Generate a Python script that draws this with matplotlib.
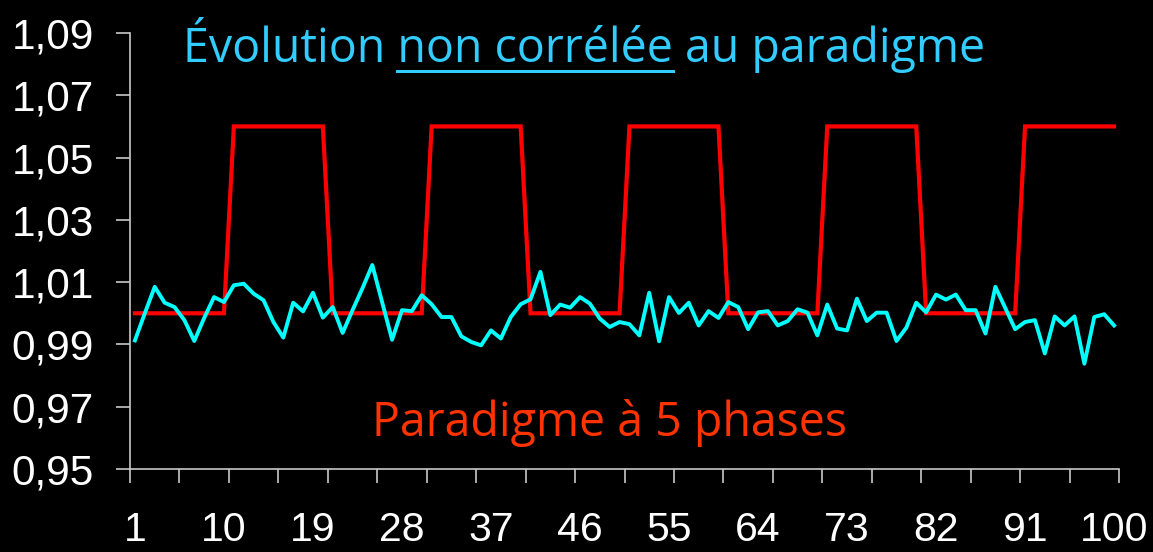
import matplotlib
matplotlib.use("Agg")
import matplotlib.pyplot as plt
from matplotlib.lines import Line2D

# données
x = list(range(1, 101))
signal = [0.9913, 1.0000, 1.0085, 1.0034, 1.0020, 0.9978, 0.9911, 0.9985, 1.0052, 1.0036,
          1.0090, 1.0095, 1.0063, 1.0042, 0.9972, 0.9922, 1.0034, 1.0006, 1.0066, 0.9986,
          1.0020, 0.9937, 1.0010, 1.0080, 1.0155, 1.0035, 0.9915, 1.0010, 1.0007, 1.0058,
          1.0029, 0.9988, 0.9988, 0.9926, 0.9908, 0.9897, 0.9945, 0.9919, 0.9988, 1.0029,
          1.0045, 1.0133, 0.9994, 1.0028, 1.0018, 1.0052, 1.0031, 0.9983, 0.9956, 0.9972,
          0.9965, 0.9929, 1.0066, 0.9910, 1.0052, 1.0001, 1.0034, 0.9961, 1.0007, 0.9985,
          1.0036, 1.0020, 0.9949, 1.0003, 1.0007, 0.9961, 0.9975, 1.0013, 1.0002, 0.9929,
          1.0028, 0.9951, 0.9945, 1.0047, 0.9975, 1.0002, 1.0002, 0.9911, 0.9954, 1.0034,
          1.0003, 1.0060, 1.0044, 1.0060, 1.0010, 1.0010, 0.9935, 1.0085, 1.0017, 0.9949,
          0.9972, 0.9978, 0.9871, 0.9990, 0.9961, 0.9990, 0.9838, 0.9988, 0.9997, 0.9961]
phase_levels = [1.00, 1.06, 1.00, 1.06, 1.00, 1.06, 1.00, 1.06, 1.00, 1.06]
phase_len = 10
paradigme = [lvl for lvl in phase_levels for _ in range(phase_len)]

yticks = [0.95, 0.97, 0.99, 1.01, 1.03, 1.05, 1.07, 1.09]
xlabels = [1, 10, 19, 28, 37, 46, 55, 64, 73, 82, 91, 100]

fig = plt.figure(figsize=(11.53, 5.52), dpi=100, facecolor="black")
ax = fig.add_axes([130 / 1153, 1 - 469 / 552, (1119 - 130) / 1153, (469 - 33) / 552])
ax.set_facecolor("black")

ax.plot(x, paradigme, color="#ff0000", lw=3.0, solid_joinstyle="miter")
ax.plot(x, signal, color="#00ffff", lw=2.8)

ax.set_xlim(0.5, 100.5)
ax.set_ylim(0.95, 1.09)

for s in ["top", "right"]:
    ax.spines[s].set_visible(False)
for s in ["left", "bottom"]:
    ax.spines[s].set_color("#c8c8c8")
    ax.spines[s].set_linewidth(1.2)

# y : graduations avec virgule
ax.set_yticks(yticks)
ax.set_yticklabels([f"{v:.2f}".replace(".", ",") for v in yticks])
ax.tick_params(axis="y", colors="#c8c8c8", labelcolor="white", length=10, width=1.2,
               pad=16, labelsize=30.5)

# x : marques tous les 5, étiquettes tous les 9
ax.set_xticks([0.5 + 5 * k for k in range(21)])
ax.set_xticklabels([])
ax.set_xticks(xlabels, minor=True)
ax.set_xticklabels([str(v) for v in xlabels], minor=True)
ax.xaxis.remove_overlapping_locs = False
ax.tick_params(axis="x", which="major", colors="#c8c8c8", length=10, width=1.2)
ax.tick_params(axis="x", which="minor", length=0, pad=30, labelcolor="white", labelsize=29.5)
for lab in ax.get_xticklabels(which="minor") + ax.get_yticklabels():
    lab.set_fontfamily("Liberation Sans")

# textes
fnt = "Open Sans"
fs = 33.5
full = "Évolution non corrélée au paradigme"
t = fig.text(584 / 1153, 1 - 45 / 552, full, ha="center", va="center", color="#33ccff",
             fontsize=fs, fontfamily=fnt)
fig.text(609 / 1153, 1 - 423 / 552, "Paradigme à 5 phases", ha="center", va="center",
         color="#ff3300", fontsize=fs, fontfamily=fnt)

fig.canvas.draw()
r = fig.canvas.get_renderer()

def width(s):
    tmp = fig.text(0, 0, s, fontsize=fs, fontfamily=fnt)
    w = tmp.get_window_extent(r).width
    tmp.remove()
    return w

bb = t.get_window_extent(r)
x0 = bb.x0 + width("Évolution n") - width("n")
x1 = bb.x0 + width("Évolution non corrélée")
uy = 1 - 71 / 552
fig.add_artist(Line2D([x0 / 1153, x1 / 1153], [uy, uy], transform=fig.transFigure,
                      color="#33ccff", lw=2.2))

plt.savefig("out.png", dpi=100, facecolor="black")
